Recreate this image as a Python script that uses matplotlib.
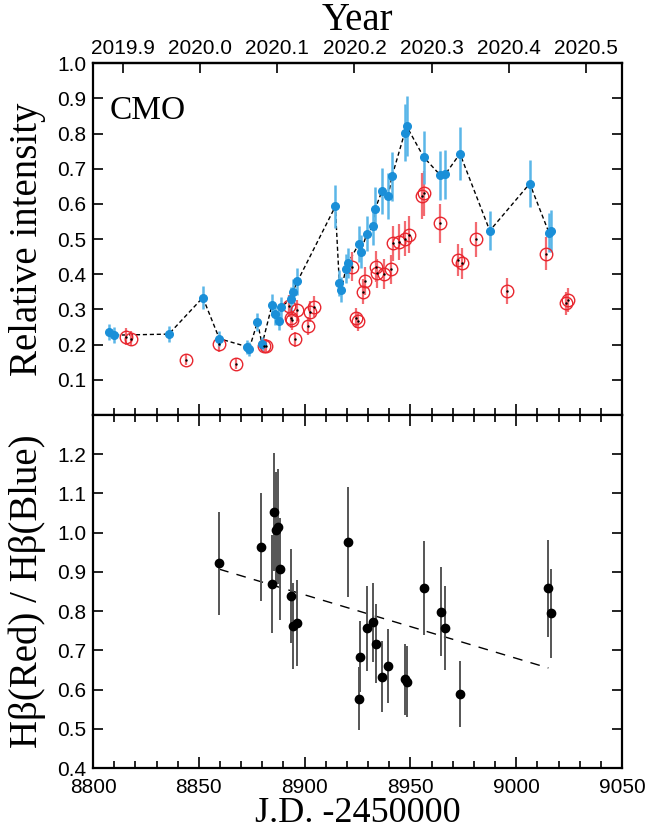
import numpy as np
import matplotlib
matplotlib.use("Agg")
import matplotlib.pyplot as plt
from matplotlib.ticker import MultipleLocator

# Curva azul (pontos cheios) - intensidade relativa
blue_jd = [8807.7, 8809.9, 8835.8, 8851.9, 8859.7, 8872.9, 8873.8, 8877.7, 8879.9,
           8884.6, 8885.9, 8887.8, 8888.7, 8893.5, 8894.4, 8896.6, 8914.5, 8916.4,
           8917.3, 8919.5, 8920.6, 8925.6, 8926.5, 8929.4, 8932.5, 8933.4, 8936.5,
           8939.5, 8941.3, 8947.3, 8948.2, 8956.3, 8964.1, 8966.4, 8973.4, 8987.5,
           9006.4, 9015.5, 9016.4]
blue_val = [0.237, 0.227, 0.230, 0.334, 0.217, 0.194, 0.188, 0.264, 0.201,
            0.313, 0.287, 0.268, 0.306, 0.330, 0.351, 0.380, 0.593, 0.375,
            0.356, 0.416, 0.433, 0.486, 0.464, 0.515, 0.537, 0.587, 0.636,
            0.623, 0.679, 0.803, 0.821, 0.733, 0.682, 0.684, 0.743, 0.524,
            0.658, 0.518, 0.523]
blue_err = [0.023, 0.022, 0.022, 0.033, 0.022, 0.020, 0.020, 0.025, 0.020,
            0.030, 0.030, 0.027, 0.030, 0.033, 0.035, 0.038, 0.060, 0.038,
            0.036, 0.042, 0.043, 0.050, 0.047, 0.050, 0.055, 0.060, 0.065,
            0.065, 0.070, 0.080, 0.085, 0.075, 0.070, 0.070, 0.075, 0.055,
            0.067, 0.055, 0.060]

# Curva vermelha (círculos abertos)
red_jd = [8815.6, 8817.8, 8843.8, 8859.7, 8867.5, 8880.8, 8881.7, 8892.4, 8893.5,
          8894.1, 8895.6, 8896.6, 8901.6, 8902.6, 8904.5, 8922.4, 8924.3, 8925.2,
          8927.4, 8928.3, 8933.7, 8934.0, 8937.5, 8940.7, 8941.6, 8944.7, 8947.6,
          8949.5, 8955.3, 8956.3, 8964.1, 8972.5, 8974.4, 8981.1, 8995.5, 9014.2,
          9023.4, 9024.3]
red_val = [0.222, 0.217, 0.157, 0.201, 0.146, 0.197, 0.196, 0.310, 0.277,
           0.270, 0.215, 0.298, 0.254, 0.294, 0.308, 0.422, 0.275, 0.266,
           0.351, 0.380, 0.422, 0.403, 0.401, 0.414, 0.488, 0.492, 0.501,
           0.513, 0.622, 0.630, 0.545, 0.441, 0.431, 0.500, 0.353, 0.459,
           0.318, 0.327]
red_err = [0.024, 0.022, 0.016, 0.022, 0.015, 0.020, 0.020, 0.030, 0.030,
           0.028, 0.022, 0.030, 0.026, 0.030, 0.030, 0.042, 0.028, 0.027,
           0.035, 0.040, 0.045, 0.042, 0.042, 0.042, 0.050, 0.050, 0.050,
           0.052, 0.065, 0.065, 0.055, 0.045, 0.045, 0.050, 0.037, 0.047,
           0.033, 0.034]

# Razão Hbeta(Red)/Hbeta(Blue)
ratio_jd = [8859.6, 8879.4, 8884.5, 8885.4, 8886.4, 8887.4, 8888.4, 8893.6, 8894.4,
            8896.3, 8920.4, 8925.6, 8926.4, 8929.4, 8932.4, 8933.5, 8936.6, 8939.5,
            8947.2, 8948.3, 8956.3, 8964.3, 8966.2, 8973.3, 9015.2, 9016.3]
ratio_val = [0.922, 0.964, 0.869, 1.053, 1.008, 1.015, 0.907, 0.838, 0.762,
             0.770, 0.977, 0.577, 0.684, 0.756, 0.771, 0.717, 0.633, 0.660,
             0.626, 0.620, 0.859, 0.799, 0.757, 0.589, 0.858, 0.794]
ratio_err = [0.131, 0.138, 0.124, 0.150, 0.146, 0.147, 0.130, 0.120, 0.110,
             0.110, 0.140, 0.080, 0.090, 0.108, 0.100, 0.100, 0.090, 0.095,
             0.090, 0.090, 0.120, 0.114, 0.108, 0.085, 0.123, 0.113]

# Reta ajustada
fit_jd = [8859.6, 9015.2]
fit_val = [0.907, 0.655]

year_ticks = [2019.9, 2020.0, 2020.1, 2020.2, 2020.3, 2020.4, 2020.5]

serif = "Liberation Serif"
sans = "Liberation Sans"

fig = plt.figure(figsize=(6.46, 8.32), dpi=100)
ax1 = fig.add_axes([0.1440, 0.5012, 0.8189, 0.4227])
ax2 = fig.add_axes([0.1440, 0.0769, 0.8189, 0.4243])


def jd2yr(jd):
    return 2020.0 + (np.asarray(jd) - 8850.5) / 365.25


def yr2jd(yr):
    return 8850.5 + (np.asarray(yr) - 2020.0) * 365.25


# painel superior
ax1.plot(blue_jd, blue_val, ls=(0, (3, 2)), color="black", lw=1.0, zorder=2)
ax1.errorbar(red_jd, red_val, yerr=red_err, fmt="none", ecolor="#f36a70",
             elinewidth=1.6, zorder=3)
ax1.plot(red_jd, red_val, "o", mfc="none", mec="#e8262e", ms=9, mew=1.0, zorder=4)
ax1.plot(red_jd, red_val, ".", color="black", ms=1.5, zorder=5)
ax1.errorbar(blue_jd, blue_val, yerr=blue_err, fmt="none", ecolor="#5bb6e8",
             elinewidth=1.8, zorder=3)
ax1.plot(blue_jd, blue_val, "o", color="#1a8fd8", ms=5.5, zorder=4)
ax1.text(0.032, 0.864, "CMO", transform=ax1.transAxes, fontsize=24,
         family=serif, va="center", ha="left")

ax1.set_xlim(8800, 9050)
ax1.set_ylim(0, 1.0)
ax1.set_yticks(np.arange(0.1, 1.01, 0.1))
ax1.yaxis.set_major_formatter(matplotlib.ticker.FormatStrFormatter("%.1f"))
ax1.xaxis.set_major_locator(MultipleLocator(50))
ax1.xaxis.set_minor_locator(MultipleLocator(10))
ax1.tick_params(axis="x", which="both", direction="in", labelbottom=False,
                bottom=True, top=False)
ax1.tick_params(axis="x", which="major", length=8, width=1.2)
ax1.tick_params(axis="x", which="minor", length=5, width=1.2)
ax1.tick_params(axis="y", direction="in", right=True, length=7, width=1.2,
                labelsize=15, pad=5)
ax1.set_ylabel("Relative intensity", fontsize=28, family=serif, labelpad=8)

sec = ax1.secondary_xaxis("top", functions=(jd2yr, yr2jd))
sec.set_xticks(year_ticks)
sec.set_xticklabels([f"{y:.1f}" for y in year_ticks])
sec.tick_params(direction="in", length=7, width=1.2, labelsize=15, pad=4)
sec.set_xlabel("Year", fontsize=28, family=serif, labelpad=6)

# painel inferior
ax2.errorbar(ratio_jd, ratio_val, yerr=ratio_err, fmt="none", ecolor="#555555",
             elinewidth=1.4, zorder=2)
ax2.plot(ratio_jd, ratio_val, "o", color="black", ms=6, zorder=3)
ax2.plot(fit_jd, fit_val, ls=(0, (7, 6)), color="black", lw=1.0, zorder=1)

ax2.set_xlim(8800, 9050)
ax2.set_ylim(0.4, 1.3)
ax2.set_yticks(np.arange(0.4, 1.21, 0.1))
ax2.yaxis.set_major_formatter(matplotlib.ticker.FormatStrFormatter("%.1f"))
ax2.xaxis.set_major_locator(MultipleLocator(50))
ax2.xaxis.set_minor_locator(MultipleLocator(10))
ax2.tick_params(axis="x", which="both", direction="in", top=True,
                labelsize=15, pad=7)
ax2.tick_params(axis="x", which="major", length=8, width=1.2)
ax2.tick_params(axis="x", which="minor", length=5, width=1.2)
ax2.tick_params(axis="y", direction="in", right=True, length=7, width=1.2,
                labelsize=15, pad=5)
ax2.set_ylabel("Hβ(Red) / Hβ(Blue)", fontsize=28, family=serif, labelpad=8)
ax2.set_xlabel("J.D. -2450000", fontsize=26, family=serif, labelpad=0)

for ax in (ax1, ax2):
    for s in ax.spines.values():
        s.set_linewidth(1.6)
    for lab in ax.get_xticklabels() + ax.get_yticklabels():
        lab.set_family(sans)
for lab in sec.get_xticklabels():
    lab.set_family(sans)
sec.spines["top"].set_linewidth(1.6)

fig.savefig("out.png", dpi=100)
